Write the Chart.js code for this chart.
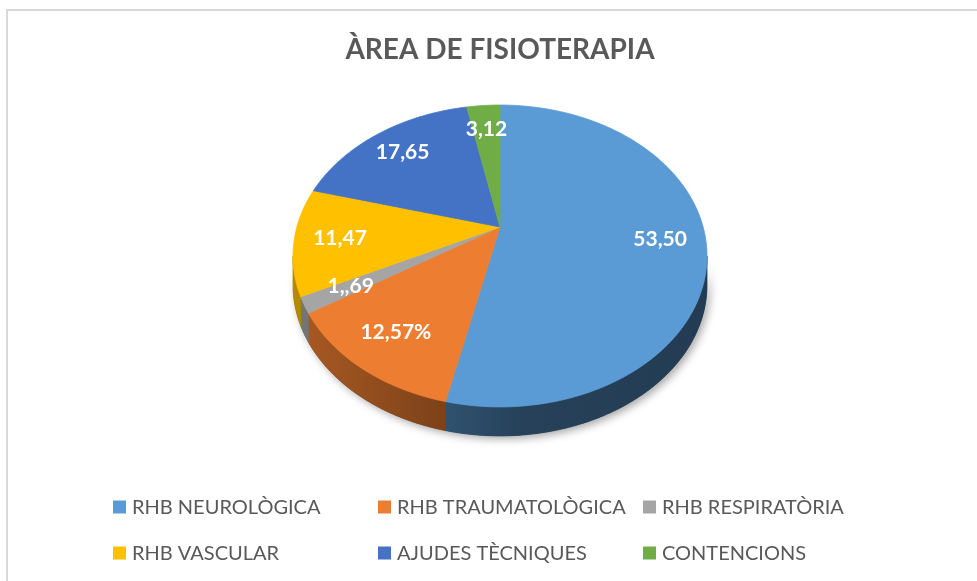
<!DOCTYPE html>
<html>
<head>
<meta charset="utf-8">
<script src="https://cdn.jsdelivr.net/npm/chart.js@4/dist/chart.umd.min.js"></script>
<style>
  html, body { margin: 0; padding: 0; background: #fff; }
  #wrap { position: relative; width: 977px; height: 581px; }
  #frame { position: absolute; left: 6px; top: 9px; right: -10px; bottom: -10px; border: 2px solid #d9d9d9; pointer-events: none; }
  canvas { position: absolute; left: 0; top: 0; }
</style>
</head>
<body>
<div id="wrap">
  <div id="frame"></div>
  <canvas id="c" width="977" height="581"></canvas>
</div>
<script>
// ---- data ----
const chartTitle = 'ÀREA DE FISIOTERAPIA';
const categories = ['RHB NEUROLÒGICA', 'RHB TRAUMATOLÒGICA', 'RHB RESPIRATÒRIA', 'RHB VASCULAR', 'AJUDES TÈCNIQUES', 'CONTENCIONS'];
const values = [53.50, 12.57, 1.69, 11.47, 17.65, 3.12];
const valueLabels = ['53,50', '12,57%', '1,,69', '11,47', '17,65', '3,12'];
const colors = ['#5B9BD5', '#ED7D31', '#A5A5A5', '#FFC000', '#4472C4', '#70AD47'];

// ---- 3D look constants ----
const PERSP = 0.192;      // perspective strength (front larger than back)
const SQUASH = 0.7156;    // vertical scale of the projected disc
const VERTEX_Y = 227;     // on-screen y of the pie's centre point
const DEPTH = 29;         // thickness of the pie
const LABEL_R = 0.78;     // label distance as fraction of radius
const FONT = 'Lato, "Open Sans", sans-serif';

function shade(hex, f) {
  const n = parseInt(hex.slice(1), 16);
  const r = Math.round(((n >> 16) & 255) * f), g = Math.round(((n >> 8) & 255) * f), b = Math.round((n & 255) * f);
  return `rgb(${r},${g},${b})`;
}

// projective map of the library's circular pie onto a tilted disc
function projector(chart) {
  const arcs = chart.getDatasetMeta(0).data;
  const R = arcs[0].outerRadius;
  const cx = arcs[0].x;
  const a = 1 / Math.sqrt(1 - PERSP * PERSP);
  const sx = R / a, sy = sx * SQUASH;
  const proj = (angle, frac, dy) => {
    const u = frac * Math.cos(angle), v = frac * Math.sin(angle);
    const w = 1 - PERSP * v;
    return [cx + sx * u / w, VERTEX_Y + (dy || 0) + sy * v / w];
  };
  return { arcs, proj, cx, R, sx };
}

function arcPoints(proj, a1, a2, dy) {
  const pts = [];
  const n = Math.max(2, Math.ceil(Math.abs(a2 - a1) / 0.01));
  for (let i = 0; i <= n; i++) pts.push(proj(a1 + (a2 - a1) * i / n, 1, dy));
  return pts;
}

const pie3d = {
  id: 'pie3d',
  beforeDatasetsDraw(chart) {
    const ctx = chart.ctx;
    const { arcs, proj, cx, sx } = projector(chart);
    const vis1 = Math.asin(PERSP), vis2 = Math.PI - Math.asin(PERSP);
    const left = cx - sx * 1.02, right = cx + sx * 1.02;

    // soft shadow under the body
    ctx.save();
    ctx.shadowColor = 'rgba(0,0,0,0.35)';
    ctx.shadowBlur = 9;
    ctx.shadowOffsetX = 3;
    ctx.shadowOffsetY = 3;
    ctx.beginPath();
    const front = arcPoints(proj, vis1, vis2, DEPTH);
    const frontTop = arcPoints(proj, vis2, vis1, 0);
    front.concat(frontTop).forEach((p, i) => i ? ctx.lineTo(p[0], p[1]) : ctx.moveTo(p[0], p[1]));
    ctx.closePath();
    ctx.fillStyle = '#333';
    ctx.fill();
    ctx.restore();

    // side walls (front part only)
    arcs.forEach((arc, i) => {
      const ranges = [];
      for (let k = -1; k <= 1; k++) {
        const lo = Math.max(arc.startAngle, 2 * Math.PI * k + vis1);
        const hi = Math.min(arc.endAngle, 2 * Math.PI * k + vis2);
        if (hi > lo) ranges.push([lo, hi]);
      }
      ranges.forEach(([a1, a2]) => {
        const grad = ctx.createLinearGradient(left, 0, right, 0);
        grad.addColorStop(0, shade(colors[i], 0.72));
        grad.addColorStop(0.38, shade(colors[i], 0.52));
        grad.addColorStop(0.55, shade(colors[i], 0.42));
        grad.addColorStop(1, shade(colors[i], 0.39));
        const pts = arcPoints(proj, a1, a2, 0).concat(arcPoints(proj, a2, a1, DEPTH));
        ctx.save();
        ctx.beginPath();
        pts.forEach((p, j) => j ? ctx.lineTo(p[0], p[1]) : ctx.moveTo(p[0], p[1]));
        ctx.closePath();
        ctx.fillStyle = grad;
        ctx.strokeStyle = grad;
        ctx.lineWidth = 0.8;
        ctx.fill();
        ctx.stroke();
        ctx.restore();
      });
    });

    // top face: each slice from the library's arc angles
    arcs.forEach((arc, i) => {
      const c = proj(0, 0, 0);
      const pts = [c].concat(arcPoints(proj, arc.startAngle, arc.endAngle, 0));
      ctx.save();
      ctx.beginPath();
      pts.forEach((p, j) => j ? ctx.lineTo(p[0], p[1]) : ctx.moveTo(p[0], p[1]));
      ctx.closePath();
      ctx.fillStyle = arc.options.backgroundColor;
      ctx.strokeStyle = arc.options.backgroundColor;
      ctx.lineWidth = 0.8;
      ctx.fill();
      ctx.stroke();
      ctx.restore();
    });
    return false; // top faces already drawn in projected form
  },
  afterDraw(chart) {
    const ctx = chart.ctx;
    // value labels on the slices
    const { arcs, proj } = projector(chart);
    ctx.save();
    ctx.fillStyle = '#ffffff';
    ctx.font = `bold 21px ${FONT}`;
    ctx.textAlign = 'center';
    ctx.textBaseline = 'middle';
    arcs.forEach((arc, i) => {
      const mid = (arc.startAngle + arc.endAngle) / 2;
      const [x, y] = proj(mid, LABEL_R, 0);
      ctx.fillText(valueLabels[i], x, y);
    });
    ctx.restore();

    // legend in a 3-column grid, like the original
    ctx.save();
    ctx.font = `20px ${FONT}`;
    ctx.textBaseline = 'middle';
    ctx.textAlign = 'left';
    const x0 = 113, colW = 265, y0 = 507, rowH = 46, box = 13;
    categories.forEach((name, i) => {
      const col = i % 3, row = Math.floor(i / 3);
      const x = x0 + col * colW, y = y0 + row * rowH;
      ctx.fillStyle = colors[i];
      ctx.fillRect(x, y - box / 2, box, box);
      ctx.fillStyle = '#595959';
      ctx.fillText(name, x + 19, y + 1);
    });
    ctx.restore();
  }
};

new Chart(document.getElementById('c'), {
  type: 'pie',
  data: {
    labels: categories,
    datasets: [{
      data: values,
      backgroundColor: colors,
      borderColor: colors,
      borderWidth: 0
    }]
  },
  options: {
    responsive: false,
    animation: false,
    events: [],
    layout: { padding: { left: 293, right: 270, top: 0, bottom: 80 } },
    plugins: {
      legend: { display: false },
      tooltip: { enabled: false },
      title: {
        display: true,
        text: chartTitle,
        color: '#595959',
        font: { family: FONT, size: 28, weight: 'bold' },
        padding: { top: 33, bottom: 16 }
      }
    }
  },
  plugins: [pie3d]
});
</script>
</body>
</html>
